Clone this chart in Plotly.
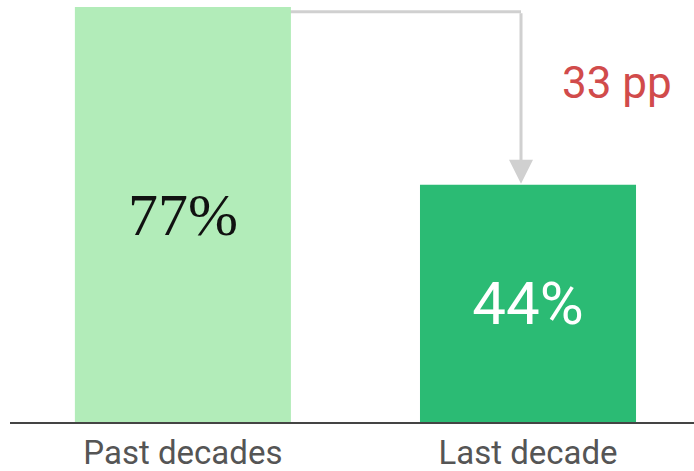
import plotly.graph_objects as go

categories = ["Past decades", "Last decade"]
values = [77, 44]
bar_colors = ["#b2ecb9", "#2bbb74"]
text_colors = ["#111111", "#ffffff"]
text_fonts = ["Liberation Serif", "Roboto"]

diff = values[0] - values[1]
ymax = values[0] * 422 / 415
x_idx = list(range(len(categories)))

fig = go.Figure()
fig.add_trace(go.Bar(
    x=x_idx, y=values, width=0.626,
    marker=dict(color=bar_colors, line=dict(width=0)),
    text=[f"{v}%" for v in values],
    textposition="inside", insidetextanchor="middle",
    textfont=dict(size=60, color=text_colors, family=text_fonts),
    textangle=0, cliponaxis=False, hoverinfo="skip",
))

arrow_x = 1 - 7 / 345
line_y = values[0] - 0.9
# horizontal connector (starts behind first bar)
fig.add_shape(type="line", x0=0, x1=arrow_x, y0=line_y, y1=line_y,
              xref="x", yref="y", layer="below",
              line=dict(color="#d0d0d0", width=3))
# vertical arrow down to second bar
fig.add_annotation(x=arrow_x, y=values[1] + 0.2, ax=arrow_x, ay=line_y,
                   xref="x", yref="y", axref="x", ayref="y",
                   showarrow=True, arrowhead=2, arrowsize=1.6, arrowwidth=3,
                   arrowcolor="#d0d0d0", text="")
fig.add_annotation(x=1.258, y=62.9, xref="x", yref="y",
                   text=f"{diff} pp", showarrow=False,
                   font=dict(size=44, color="#d14b4b", family="Roboto"))

fig.update_layout(
    width=694, height=471,
    margin=dict(l=10, r=0, t=0, b=49, autoexpand=False),
    paper_bgcolor="white", plot_bgcolor="white",
    showlegend=False,
    xaxis=dict(range=[-0.501, 1.481], tickvals=x_idx, ticktext=categories,
               showgrid=False, zeroline=False, showline=True,
               linecolor="#444444", linewidth=2, ticks="",
               automargin=False, ticklabelstandoff=0,
               tickfont=dict(size=33, color="#555555", family="Roboto")),
    yaxis=dict(range=[0, ymax], visible=False, showgrid=False, zeroline=False),
)

fig.write_html("out.html", config={"displayModeBar": False},
               post_script="document.body.style.margin='0';")
